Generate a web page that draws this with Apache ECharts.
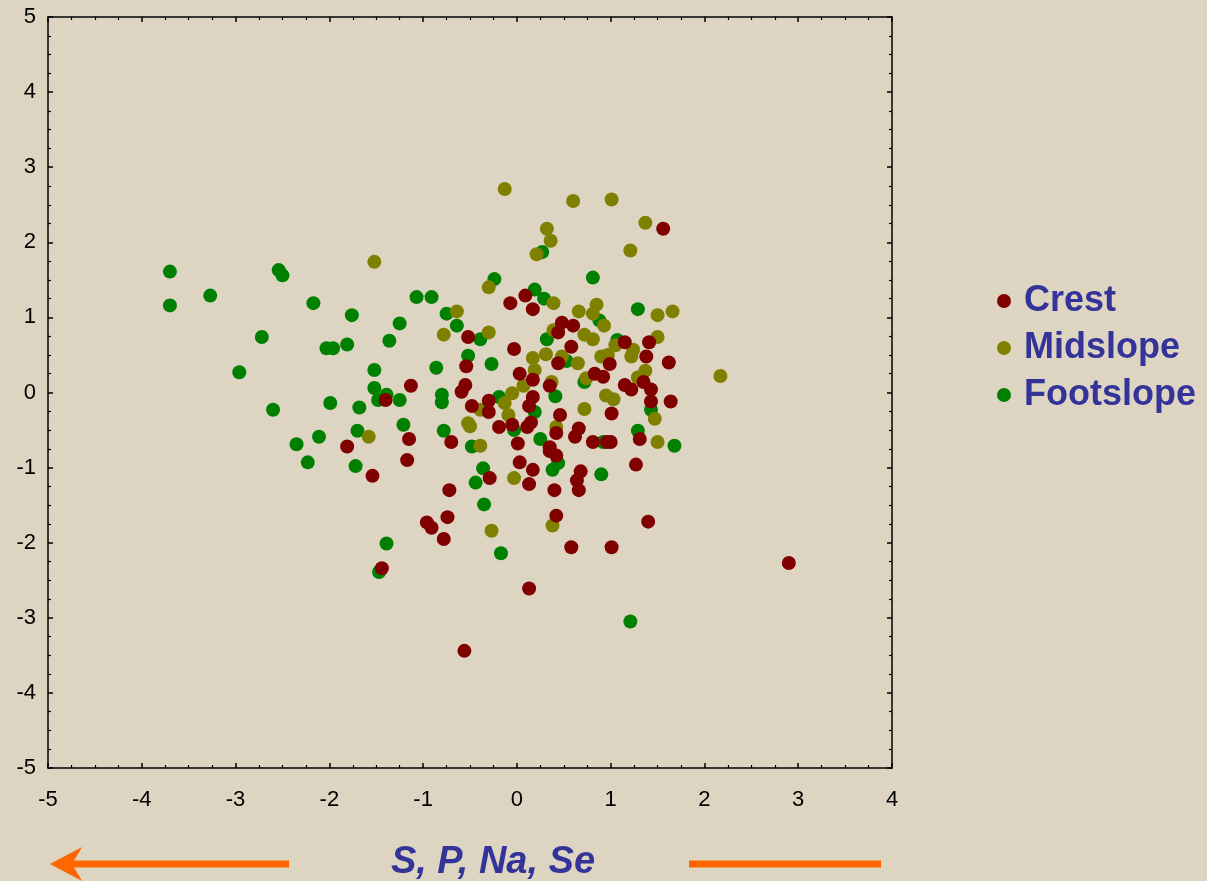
<!DOCTYPE html>
<html><head><meta charset="utf-8">
<script src="https://cdn.jsdelivr.net/npm/echarts@6/dist/echarts.min.js"></script>
<style>html,body{margin:0;padding:0;background:#ddd5c2;}#c{width:1207px;height:881px;}</style>
</head><body><div id="c"></div>
<script>
const seriesNames = ['Crest', 'Midslope', 'Footslope'];
const xTicks = [-5, 4, 1];
const yTicks = [-5, 5, 1];
const axisTitle = 'S, P, Na, Se';

const crest = [[1.56,2.18],[0.09,1.29],[-0.07,1.19],[0.17,1.11],[-0.52,0.74],[-0.54,0.35],[-0.03,0.58],[1.41,0.67],[1.15,0.67],[1.38,0.48],[1.62,0.40],[0.48,0.93],[0.60,0.89],[0.44,0.80],[0.58,0.61],[0.44,0.39],[0.99,0.38],[-1.13,0.09],[-1.40,-0.10],[-1.15,-0.62],[-0.70,-0.66],[-1.81,-0.72],[-1.17,-0.90],[-1.54,-1.11],[-0.72,-1.30],[-0.74,-1.66],[-0.96,-1.73],[-0.91,-1.80],[-0.78,-1.95],[-1.44,-2.34],[-0.55,0.10],[-0.59,0.01],[-0.48,-0.18],[-0.30,-0.11],[-0.30,-0.26],[-0.19,-0.46],[-0.05,-0.43],[0.01,-0.68],[0.03,0.25],[0.17,0.17],[0.17,-0.06],[0.13,-0.18],[0.11,-0.46],[0.15,-0.40],[0.35,0.09],[0.46,-0.30],[0.42,-0.54],[0.35,-0.73],[0.66,-0.48],[0.62,-0.59],[0.83,0.25],[0.92,0.21],[1.01,-0.28],[0.81,-0.66],[0.96,-0.66],[1.00,-0.66],[1.35,0.14],[1.15,0.10],[1.22,0.04],[1.43,0.04],[1.43,-0.12],[1.64,-0.12],[1.31,-0.62],[0.35,-0.78],[0.42,-0.84],[0.03,-0.93],[0.17,-1.03],[0.13,-1.22],[0.40,-1.30],[0.68,-1.05],[0.64,-1.17],[0.66,-1.30],[1.27,-0.96],[-0.29,-1.14],[0.42,-1.64],[0.58,-2.06],[1.01,-2.06],[1.40,-1.72],[0.13,-2.61],[-0.56,-3.44],[2.90,-2.27]];

const midslope = [[-0.13,2.71],[0.60,2.55],[1.01,2.57],[1.37,2.26],[0.32,2.18],[0.36,2.02],[0.21,1.84],[1.21,1.89],[-0.30,1.40],[0.39,1.19],[-0.64,1.08],[-0.78,0.77],[-0.30,0.80],[0.66,1.08],[0.81,1.05],[0.85,1.17],[0.93,0.89],[1.50,1.03],[1.66,1.08],[1.50,0.74],[1.05,0.63],[1.24,0.57],[1.22,0.48],[0.90,0.48],[0.97,0.50],[0.39,0.83],[0.72,0.77],[0.81,0.71],[0.31,0.51],[0.17,0.46],[0.48,0.48],[0.65,0.39],[-1.52,1.74],[-1.58,-0.59],[-0.13,-0.14],[-0.05,-0.01],[-0.39,-0.23],[-0.09,-0.30],[-0.52,-0.41],[-0.50,-0.45],[-0.39,-0.71],[0.19,0.30],[0.07,0.09],[0.37,0.14],[0.42,-0.46],[0.72,-0.22],[0.74,0.19],[0.95,-0.04],[1.03,-0.09],[1.37,0.29],[1.29,0.20],[1.47,-0.35],[1.50,-0.66],[-0.03,-1.14],[-0.27,-1.84],[0.38,-1.77],[2.17,0.22]];

const footslope = [[-3.70,1.61],[-3.70,1.16],[-3.27,1.29],[-2.54,1.63],[-2.50,1.56],[-2.17,1.19],[-1.76,1.03],[-1.07,1.27],[-0.91,1.27],[-0.75,1.05],[-1.25,0.92],[-1.36,0.69],[-2.72,0.74],[-2.03,0.59],[-1.96,0.59],[-1.81,0.64],[-2.96,0.27],[-1.52,0.30],[-0.86,0.33],[-1.52,0.06],[-1.39,-0.03],[-1.48,-0.10],[-1.25,-0.10],[-0.80,-0.03],[-0.80,-0.13],[-2.60,-0.23],[-1.99,-0.14],[-1.68,-0.20],[-1.21,-0.43],[-0.78,-0.51],[-1.70,-0.51],[-2.11,-0.59],[-2.35,-0.69],[-2.23,-0.93],[-1.72,-0.98],[-1.39,-2.01],[-1.47,-2.39],[0.27,1.87],[0.81,1.53],[-0.24,1.51],[0.19,1.37],[0.29,1.25],[-0.64,0.89],[-0.39,0.71],[-0.52,0.49],[-0.27,0.38],[0.88,0.96],[1.29,1.11],[0.32,0.71],[0.53,0.42],[1.07,0.70],[-0.19,-0.06],[0.19,-0.26],[-0.48,-0.72],[-0.03,-0.50],[0.41,-0.05],[0.25,-0.62],[0.72,0.14],[0.92,-0.66],[1.43,-0.23],[1.29,-0.51],[1.68,-0.71],[0.44,-0.94],[0.38,-1.03],[0.90,-1.09],[-0.36,-1.01],[-0.44,-1.20],[-0.35,-1.49],[-0.17,-2.14],[1.21,-3.05]];

const colors = {Crest:'#800000', Midslope:'#808000', Footslope:'#008000'};
const FONT = "'Liberation Sans', Arial, sans-serif";
const ORANGE = '#ff6600';
const BLUE = '#333399';

const chart = echarts.init(document.getElementById('c'), null, {renderer:'canvas'});

function axisBase(showLabel, pos){
  return {
    axisLine:{show:true, onZero:false, lineStyle:{color:'#000', width:1.5}},
    axisTick:{show:true, inside:true, length:5, lineStyle:{color:'#000', width:1.5}},
    minorTick:{show:true, splitNumber:4, length:3, lineStyle:{color:'#000', width:1.2}},
    splitLine:{show:false},
    axisLabel:{show:showLabel, color:'#000', fontSize:22, fontFamily:FONT},
    position:pos
  };
}

const xa0 = Object.assign(axisBase(true,'bottom'), {type:'value', min:xTicks[0], max:xTicks[1], interval:xTicks[2]});
xa0.axisLabel.margin = 21;
const xa1 = Object.assign(axisBase(false,'top'), {type:'value', min:xTicks[0], max:xTicks[1], interval:xTicks[2]});
const ya0 = Object.assign(axisBase(true,'left'), {type:'value', min:yTicks[0], max:yTicks[1], interval:yTicks[2]});
ya0.axisLabel.margin = 12;
const ya1 = Object.assign(axisBase(false,'right'), {type:'value', min:yTicks[0], max:yTicks[1], interval:yTicks[2]});

function sc(name, data){
  return {name:name, type:'scatter', data:data, symbol:'circle', symbolSize:14,
    xAxisIndex:0, yAxisIndex:0, itemStyle:{color:colors[name], opacity:1}, emphasis:{disabled:true}, animation:false};
}

chart.setOption({
  backgroundColor:'#ddd5c2',
  animation:false,
  grid:{left:48, top:17, right:315, bottom:113, containLabel:false},
  xAxis:[xa0, xa1],
  yAxis:[ya0, ya1],
  legend:{
    data:seriesNames.map(n=>({name:n, icon:'circle'})),
    orient:'vertical', left:992, top:276, itemWidth:14, itemHeight:14, itemGap:7,
    textStyle:{color:BLUE, fontSize:36, fontWeight:'bold', fontFamily:FONT, lineHeight:40, padding:[0,0,0,8]},
    selectedMode:false
  },
  series:[sc('Footslope', footslope), sc('Midslope', midslope), sc('Crest', crest)],
  graphic:[
    {type:'rect', shape:{x:68, y:860.5, width:221, height:7}, style:{fill:ORANGE}},
    {type:'polygon', shape:{points:[[50,864],[82,847],[72,864],[82,881]]}, style:{fill:ORANGE}},
    {type:'rect', shape:{x:689, y:860.5, width:192, height:7}, style:{fill:ORANGE}},
    {type:'text', x:493, y:863, style:{text:axisTitle, align:'center', verticalAlign:'middle', fill:BLUE, font:"italic bold 38px " + FONT}}
  ]
});
</script></body></html>
